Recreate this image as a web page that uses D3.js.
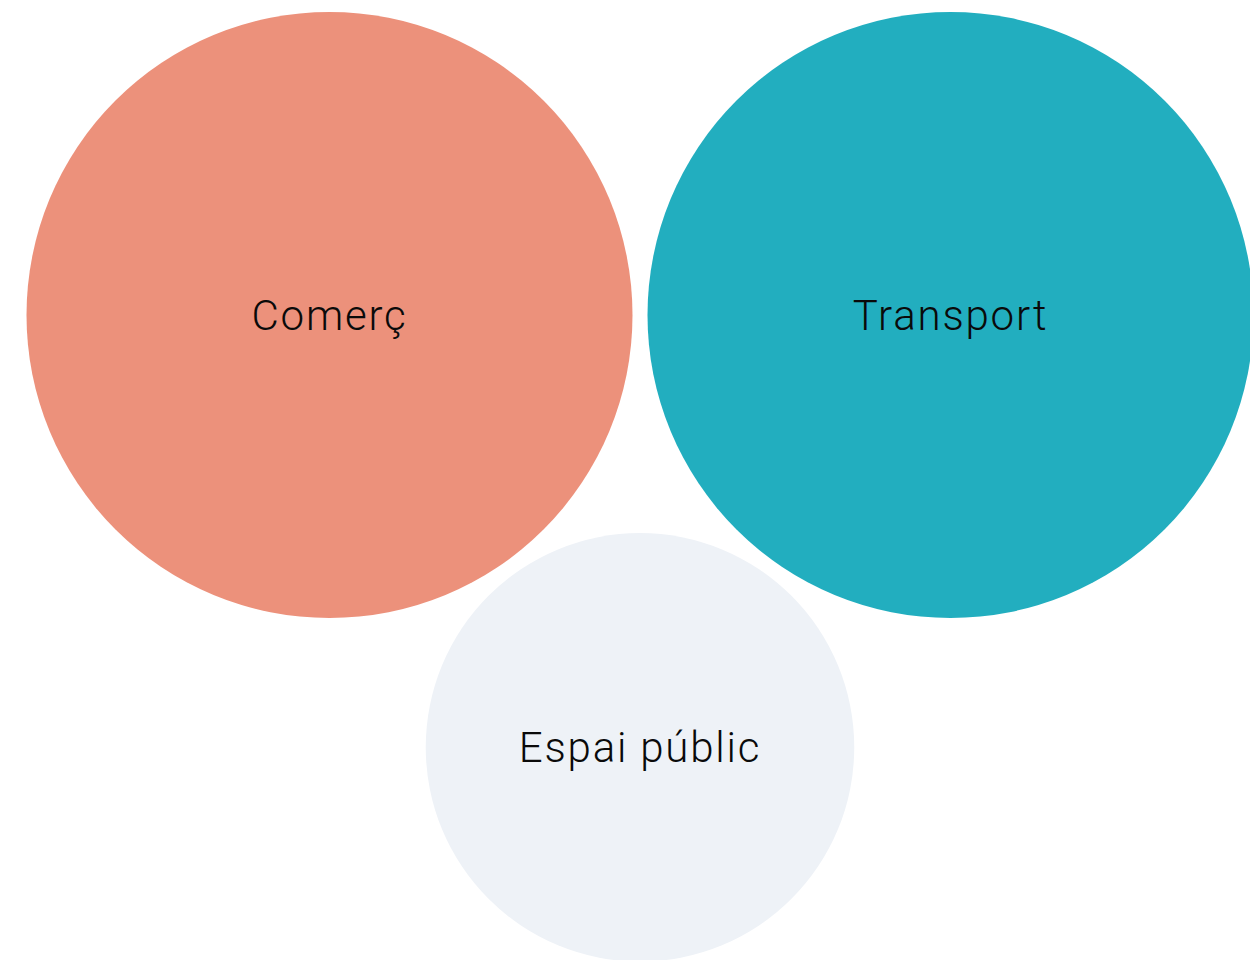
<!DOCTYPE html>
<html lang="ca">
  <head>
    <meta charset="UTF-8" />
    <title>Bubbles</title>
    <style>
        body { margin: 0; background: #fff; }
        .bubble text {
            font-family: Roboto, "Open Sans", sans-serif;
            font-weight: 300;
            font-size: 42px;
            letter-spacing: 1.8px;
            fill: #0a0a0a;
        }
    </style>
    <script src="https://d3js.org/d3.v7.min.js"></script>
  </head>
  <body>
    <div id="chart"></div>
    <script>
        const categories = ["Comerç", "Transport", "Espai públic"];
        const values = [2, 2, 1];
        const colors = ["#ec917b", "#22aebf", "#eef2f7"];

        let width = 1250;
        let height = 960;
        const pad = 7.5;

        const svg = d3.select("#chart")
                    .append("svg")
                    .attr("width", width)
                    .attr("height", height);

        const scaleR = d3.scaleSqrt().domain([0, d3.max(values)]).range([0, 303]);

        const nodes = categories.map((c, i) => ({
            name: c,
            value: values[i],
            color: colors[i],
            r: scaleR(values[i]) + pad
        }));
        d3.packSiblings(nodes);
        nodes.forEach(n => n.r -= pad);

        const g = svg.append("g").attr("transform", "translate(640,346.5)");

        const bubble = g.selectAll("g")
                .data(nodes)
                .join("g")
                .classed("bubble", true)
                .attr("transform", d => `translate(${d.x},${d.y})`);

        bubble.append("circle")
                .attr("r", d => d.r)
                .attr("fill", d => d.color);

        bubble.append("text")
                .attr("text-anchor", "middle")
                .attr("dy", "0.36em")
                .text(d => d.name);
    </script>
  </body>
</html>
